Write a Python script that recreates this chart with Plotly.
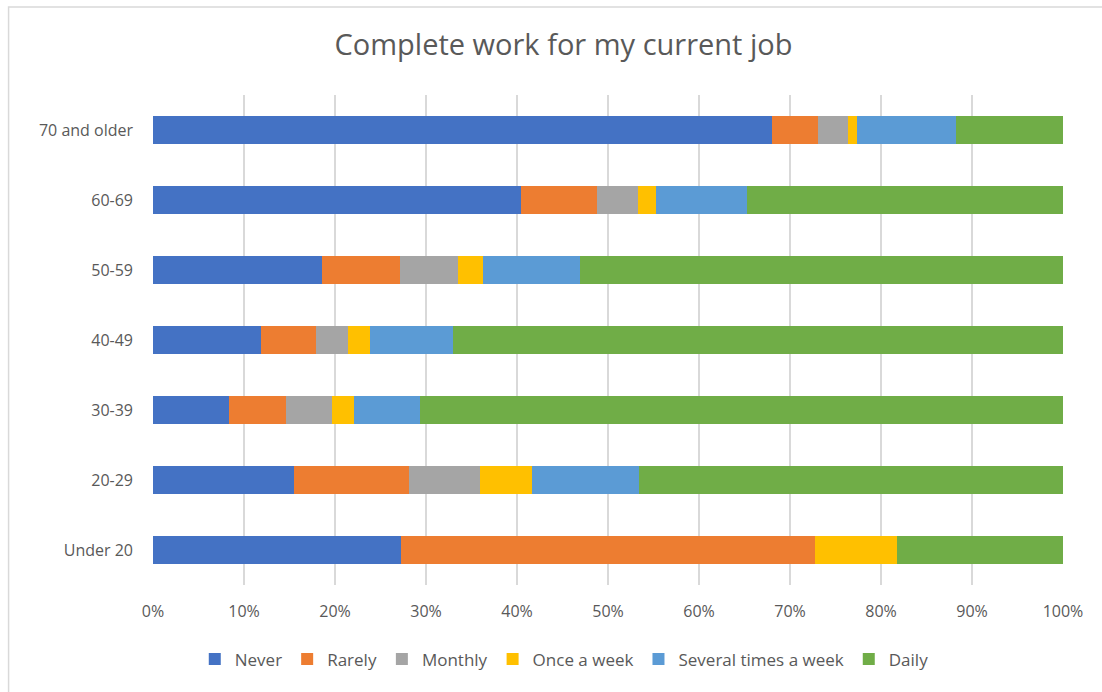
import plotly.graph_objects as go

# Age groups, bottom to top
age_groups = ["Under 20", "20-29", "30-39", "40-49", "50-59", "60-69", "70 and older"]

# Share of respondents (%) for each answer, per age group
never = [27.3, 15.5, 8.3, 11.9, 18.6, 40.4, 68.0]
rarely = [45.4, 12.6, 6.3, 6.0, 8.5, 8.4, 5.1]
monthly = [0.0, 7.8, 5.1, 3.5, 6.4, 4.5, 3.3]
once_a_week = [9.1, 5.8, 2.4, 2.4, 2.8, 2.0, 1.0]
several_times_a_week = [0.0, 11.7, 7.2, 9.2, 10.6, 10.0, 10.8]
daily = [18.2, 46.6, 70.7, 67.0, 53.1, 34.7, 11.8]

series = [
    ("Never", never, "#4472C4"),
    ("Rarely", rarely, "#ED7D31"),
    ("Monthly", monthly, "#A5A5A5"),
    ("Once a week", once_a_week, "#FFC000"),
    ("Several times a week", several_times_a_week, "#5B9BD5"),
    ("Daily", daily, "#70AD47"),
]

FONT = "Open Sans"
TEXT = "#595959"

fig = go.Figure()
for name, values, color in series:
    fig.add_trace(go.Bar(
        y=age_groups, x=values, name=name, orientation="h",
        marker=dict(color=color, line=dict(width=0)),
    ))

W, H = 1102, 692
L, R, T, B = 152.5, 39, 95, 106.5
pw, ph = W - L - R, H - T - B


def px_x(p):
    return (p - L) / pw


def px_y(p):
    return (H - B - p) / ph


fig.update_layout(
    width=W, height=H,
    margin=dict(l=L, r=R, t=T, b=B, pad=0),
    barmode="stack",
    bargap=0.6,
    paper_bgcolor="white",
    plot_bgcolor="white",
    font=dict(family=FONT, color=TEXT, size=16),
    title=dict(
        text="Complete work for my current job",
        xref="container", x=563.5 / W, xanchor="center",
        y=1 - 45 / H, yanchor="middle",
        font=dict(family=FONT, size=29, color=TEXT),
    ),
    xaxis=dict(
        range=[0, 100], dtick=10, ticksuffix="%",
        showgrid=True, gridcolor="#D9D9D9", gridwidth=1.5,
        zeroline=False, showline=False,
        ticks="", ticklabelstandoff=15,
        tickfont=dict(family=FONT, size=16, color=TEXT),
        fixedrange=True,
    ),
    yaxis=dict(
        showgrid=False, zeroline=False, showline=False,
        ticks="", ticklabelstandoff=19,
        tickfont=dict(family=FONT, size=16, color=TEXT),
        fixedrange=True,
    ),
    legend=dict(
        orientation="h", traceorder="normal",
        x=px_x(564), xanchor="center", y=px_y(660), yanchor="middle",
        font=dict(family=FONT, size=17, color=TEXT),
        itemwidth=30,
    ),
    showlegend=True,
    shapes=[
        dict(
            type="rect", xref="paper", yref="paper",
            x0=px_x(8), x1=px_x(1115), y0=px_y(7), y1=px_y(710),
            line=dict(color="#D9D9D9", width=1.5),
            fillcolor="rgba(0,0,0,0)", layer="below",
        )
    ],
)

fig.write_html("out.html")
